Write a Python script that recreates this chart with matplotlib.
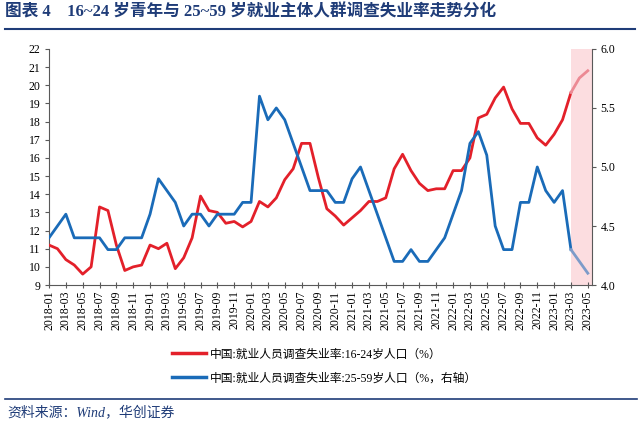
import matplotlib.pyplot as plt
from matplotlib.lines import Line2D

plt.rcParams['font.family'] = ['Liberation Serif', 'Noto Sans CJK SC']
plt.rcParams['axes.unicode_minus'] = False

# 2018-01 ~ 2023-05
months = [f'{y}-{m:02d}' for y in range(2018, 2024) for m in range(1, 13)][:65]

youth = [11.2, 11.0, 10.4, 10.1, 9.6, 10.0, 13.3, 13.1, 11.2, 9.8, 10.0, 10.1,
         11.2, 11.0, 11.3, 9.9, 10.5, 11.6, 13.9, 13.1, 13.0, 12.4, 12.5, 12.2,
         12.5, 13.6, 13.3, 13.8, 14.8, 15.4, 16.8, 16.8, 14.9, 13.2, 12.8, 12.3,
         12.7, 13.1, 13.6, 13.6, 13.8, 15.4, 16.2, 15.3, 14.6, 14.2, 14.3, 14.3,
         15.3, 15.3, 16.0, 18.2, 18.4, 19.3, 19.9, 18.7, 17.9, 17.9, 17.1, 16.7,
         17.3, 18.1, 19.6, 20.4, 20.8]
main = [4.4, 4.5, 4.6, 4.4, 4.4, 4.4, 4.4, 4.3, 4.3, 4.4, 4.4, 4.4,
        4.6, 4.9, 4.8, 4.7, 4.5, 4.6, 4.6, 4.5, 4.6, 4.6, 4.6, 4.7,
        4.7, 5.6, 5.4, 5.5, 5.4, 5.2, 5.0, 4.8, 4.8, 4.8, 4.7, 4.7,
        4.9, 5.0, 4.8, 4.6, 4.4, 4.2, 4.2, 4.3, 4.2, 4.2, 4.3, 4.4,
        4.6, 4.8, 5.2, 5.3, 5.1, 4.5, 4.3, 4.3, 4.7, 4.7, 5.0, 4.8,
        4.7, 4.8, 4.3, 4.2, 4.1]

red = '#E3202A'
blue = '#1A6BB8'
navy = '#1F3C78'
split = 62  # 2023-03 以后淡化显示

x = list(range(len(months)))

fig = plt.figure(figsize=(6.4, 4.22), dpi=100)
ax = fig.add_axes([0.0766, 0.3246, 0.8484, 0.5594])
ax2 = ax.twinx()

ax.axvspan(split, 64.5, color='#FCDDE0', zorder=0, lw=0)
ax.plot(x[:split + 1], youth[:split + 1], color=red, lw=2.0, zorder=3)
ax.plot(x[split:], youth[split:], color='#EC8A94', lw=2.0, zorder=3)
ax2.plot(x[:split + 1], main[:split + 1], color=blue, lw=2.0, zorder=3)
ax2.plot(x[split:], main[split:], color='#7D9BC9', lw=2.0, zorder=3)

ax.set_xlim(0, 64.5)
ax.set_ylim(9, 22)
ax.set_yticks(range(9, 23))
ax2.set_ylim(4.0, 6.0)
ax2.set_yticks([4.0, 4.5, 5.0, 5.5, 6.0])
ax2.set_yticklabels([f'{v:.1f}' for v in [4.0, 4.5, 5.0, 5.5, 6.0]])
ax.set_xticks(x[::2])
ax.set_xticklabels(months[::2], rotation=90)

for a in (ax, ax2):
    a.spines['top'].set_visible(False)
    for s in ('left', 'right', 'bottom'):
        a.spines[s].set_color('#595959')
        a.spines[s].set_linewidth(0.8)
ax.spines['right'].set_visible(False)
ax2.spines['left'].set_visible(False)
ax2.spines['bottom'].set_visible(False)

ax.tick_params(axis='y', direction='out', length=3, width=0.8, color='#595959',
               labelsize=8.5, pad=3)
ax.tick_params(axis='x', direction='inout', length=4, width=0.8, color='#595959',
               labelsize=8.5, pad=2)
ax2.tick_params(axis='y', direction='out', length=3, width=0.8, color='#595959',
                labelsize=8.5, pad=3)

handles = [Line2D([], [], color=red, lw=2.5), Line2D([], [], color=blue, lw=2.5)]
labels = ['中国:就业人员调查失业率:16-24岁人口（%）',
          '中国:就业人员调查失业率:25-59岁人口（%，右轴）']
fig.legend(handles, labels, loc='center left', bbox_to_anchor=(0.252, 0.132),
           frameon=False, fontsize=8.5, handlelength=2.9, handletextpad=0.3,
           labelspacing=1.0)

fig.text(0.008, 0.972, '图表 4    16~24 岁青年与 25~59 岁就业主体人群调查失业率走势分化',
         color=navy, fontsize=12, fontweight='bold', va='center', ha='left')
fig.add_artist(Line2D([0.008, 0.992], [0.931, 0.931], color=navy, lw=1.5))
fig.add_artist(Line2D([0.008, 0.995], [0.055, 0.055], color=navy, lw=1.2))
fig.text(0.012, 0.022, '资料来源：Wind，华创证券', color=navy, fontsize=10,
         style='italic', va='center', ha='left')

fig.savefig('out.png', dpi=100)
